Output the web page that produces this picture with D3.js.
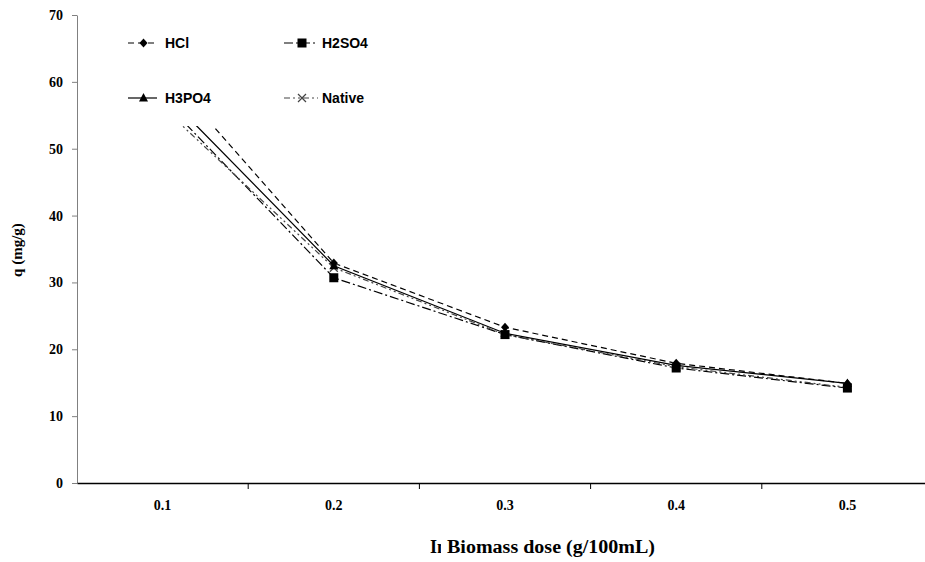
<!DOCTYPE html>
<html><head><meta charset="utf-8">
<script src="https://cdn.jsdelivr.net/npm/d3@7"></script>
<style>body{margin:0;background:#fff}svg{display:block}</style>
</head><body>
<svg id="c" width="925" height="562"></svg>
<script>
const categories = ["0.1","0.2","0.3","0.4","0.5"];
const hcl    = [62.0, 32.9, 23.3, 17.9, 14.9];
const h2so4  = [57.3, 30.7, 22.2, 17.2, 14.2];
const h3po4  = [58.6, 32.5, 22.4, 17.6, 14.9];
const native = [56.2, 32.2, 22.2, 17.4, 14.3];
const yTicks = [0,10,20,30,40,50,60,70];
const seriesNames = ["HCl","H2SO4","H3PO4","Native"];

const series = [
  {name:"HCl", values:hcl, dash:"6,4", color:"#000", marker:"diamond"},
  {name:"H2SO4", values:h2so4, dash:"9,3,2,3", color:"#000", marker:"square"},
  {name:"H3PO4", values:h3po4, dash:null, color:"#000", marker:"triangle"},
  {name:"Native", values:native, dash:"6,3,2,3,2,3", color:"#444", marker:"cross"}
];

const svg = d3.select("#c");
const x = d3.scaleBand().domain(categories).range([77, 933]);
const y = d3.scaleLinear().domain([0,70]).range([483,15]);
const cx = c => x(c) + x.bandwidth()/2;

// Y axis
const ya = svg.append("g").attr("transform","translate(77,0)")
  .call(d3.axisLeft(y).tickValues(yTicks).tickSize(5).tickSizeOuter(0).tickPadding(9));
ya.select(".domain").attr("stroke","#808080");
ya.selectAll(".tick line").attr("stroke","#808080");
ya.selectAll("text").attr("font-family","'Liberation Serif','Times New Roman',serif")
  .attr("font-weight","bold").attr("font-size",14).attr("fill","#000");

// X axis
const xa = svg.append("g").attr("transform","translate(0,483)")
  .call(d3.axisBottom(x).tickSize(0).tickPadding(-1).tickSizeOuter(0));
xa.select(".domain").attr("stroke","#000").attr("stroke-width",1.6);
xa.selectAll(".tick text").attr("dy","1.6em").attr("y",5)
  .attr("font-family","'Liberation Serif','Times New Roman',serif")
  .attr("font-weight","bold").attr("font-size",14).attr("fill","#000");
svg.append("g").selectAll("line").data(categories.slice(1)).join("line")
  .attr("x1",d=>x(d)).attr("x2",d=>x(d)).attr("y1",483).attr("y2",489)
  .attr("stroke","#000").attr("stroke-width",1);

// lines
const line = d3.line().x((d,i)=>cx(categories[i])).y(d=>y(d));
series.forEach(s=>{
  svg.append("path").datum(s.values).attr("d",line).attr("fill","none")
    .attr("stroke",s.color).attr("stroke-width",1.2)
    .attr("stroke-dasharray",s.dash);
});

function drawMarker(g, type, px, py, color){
  if(type==="diamond"){
    g.append("path").attr("d",`M${px},${py-4.5}L${px+4},${py}L${px},${py+4.5}L${px-4},${py}Z`).attr("fill",color);
  } else if(type==="square"){
    g.append("rect").attr("x",px-4.5).attr("y",py-4.5).attr("width",9).attr("height",9).attr("fill",color);
  } else if(type==="triangle"){
    g.append("path").attr("d",`M${px},${py-5}L${px+4.5},${py+3.5}L${px-4.5},${py+3.5}Z`).attr("fill",color);
  } else {
    g.append("path").attr("d",`M${px-4},${py-4}L${px+4},${py+4}M${px-4},${py+4}L${px+4},${py-4}`)
      .attr("stroke",color).attr("stroke-width",1.2).attr("fill","none");
  }
}
const mg = svg.append("g");
[3,1,2,0].forEach(k=>{
  const s = series[k];
  s.values.forEach((v,i)=>drawMarker(mg, s.marker, cx(categories[i]), y(v), s.color));
});

// legend (white box covers top of lines)
const lg = svg.append("g");
lg.append("rect").attr("x",110).attr("y",18).attr("width",320).attr("height",108).attr("fill","#fff");
const legPos = [[128,43],[284,43],[128,98],[284,98]];
series.forEach((s,i)=>{
  const [lx,ly] = legPos[i];
  const w = i%2===0 ? 29 : 34;
  lg.append("line").attr("x1",lx).attr("x2",lx+w).attr("y1",ly).attr("y2",ly)
    .attr("stroke",s.color).attr("stroke-width",1.2).attr("stroke-dasharray",s.dash);
  drawMarker(lg, s.marker, lx+w/2+1, ly, s.color);
  lg.append("text").attr("x",lx+w+(i%2===0?8:4)).attr("y",ly+5)
    .attr("font-family","'Liberation Sans',Arial,sans-serif").attr("font-weight","bold")
    .attr("font-size",14).text(seriesNames[i]);
});

// axis titles
svg.append("text").attr("transform","translate(22,250) rotate(-90)").attr("text-anchor","middle")
  .attr("font-family","'Liberation Serif','Times New Roman',serif").attr("font-weight","bold")
  .attr("font-size",15).text("q (mg/g)");
const clip = svg.append("clipPath").attr("id","inclip");
clip.append("rect").attr("x",428).attr("y",520).attr("width",13).attr("height",40);
svg.append("text").attr("x",430).attr("y",553).attr("clip-path","url(#inclip)")
  .attr("font-family","'Liberation Serif','Times New Roman',serif").attr("font-weight","bold")
  .attr("font-size",18).text("In");
svg.append("text").attr("x",447).attr("y",553)
  .attr("font-family","'Liberation Serif','Times New Roman',serif").attr("font-weight","bold")
  .attr("font-size",18).attr("textLength",208).attr("lengthAdjust","spacingAndGlyphs")
  .text("Biomass dose (g/100mL)");
</script>
</body></html>
